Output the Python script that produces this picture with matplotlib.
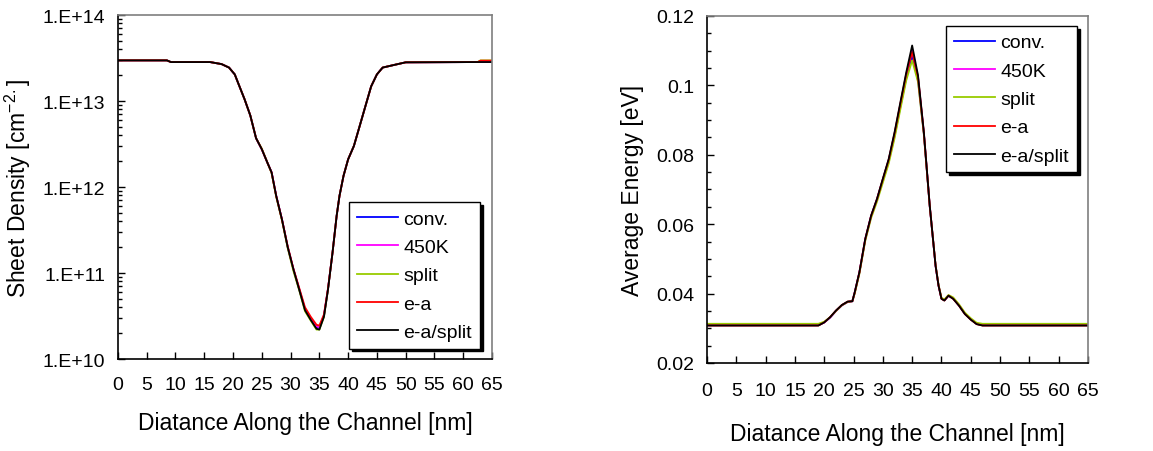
import math
import matplotlib
matplotlib.use("Agg")
import matplotlib.pyplot as plt
from matplotlib.ticker import MultipleLocator, NullFormatter, FuncFormatter, LogLocator

plt.rcParams['font.family'] = ['Liberation Sans', 'DejaVu Sans']
plt.rcParams['mathtext.default'] = 'regular'

labels = ['conv.', '450K', 'split', 'e-a', 'e-a/split']
colors = ['#0000ff', '#ff00ff', '#99cc00', '#ff0000', '#000000']

# sheet density [cm^-2] vs distance [nm]
x_dens = [0, 8.5, 9.2, 16, 18, 19.3, 20.3, 21, 22, 23, 24, 25, 26, 26.7, 27.5, 28.5,
          29.5, 30.5, 31.5, 32.5, 33.5, 34.5, 35, 35.8, 36.5, 37.3, 38, 38.5, 39.2,
          40, 41, 42, 43, 44, 45, 46, 48, 50, 62.5, 63, 65]
dens_conv = [2.97e13, 2.97e13, 2.84e13, 2.84e13, 2.69e13, 2.45e13, 2.04e13, 1.55e13,
             1.05e13, 6.8e12, 3.7e12, 2.75e12, 1.9e12, 1.48e12, 7.9e11, 4.2e11, 2.0e11,
             1.1e11, 6.5e10, 3.8e10, 2.9e10, 2.35e10, 2.3e10, 3.2e10, 6.5e10, 1.75e11,
             4.6e11, 7.9e11, 1.35e12, 2.1e12, 3.0e12, 5.1e12, 8.7e12, 1.48e13, 2.04e13,
             2.45e13, 2.63e13, 2.82e13, 2.84e13, 2.84e13, 2.84e13]
dens_450k = [2.97e13, 2.97e13, 2.84e13, 2.84e13, 2.69e13, 2.45e13, 2.04e13, 1.55e13,
             1.05e13, 6.8e12, 3.7e12, 2.75e12, 1.9e12, 1.48e12, 7.9e11, 4.2e11, 2.0e11,
             1.1e11, 6.5e10, 3.8e10, 2.95e10, 2.4e10, 2.35e10, 3.2e10, 6.5e10, 1.75e11,
             4.6e11, 7.9e11, 1.35e12, 2.1e12, 3.0e12, 5.1e12, 8.7e12, 1.48e13, 2.04e13,
             2.45e13, 2.63e13, 2.82e13, 2.84e13, 2.84e13, 2.84e13]
dens_split = [2.97e13, 2.97e13, 2.84e13, 2.84e13, 2.69e13, 2.45e13, 2.04e13, 1.55e13,
              1.05e13, 6.8e12, 3.7e12, 2.8e12, 1.9e12, 1.45e12, 7.7e11, 4.1e11, 1.95e11,
              1.05e11, 6.3e10, 3.6e10, 2.8e10, 2.2e10, 2.2e10, 3.1e10, 6.4e10, 1.75e11,
              4.6e11, 7.9e11, 1.35e12, 2.1e12, 3.0e12, 5.1e12, 8.7e12, 1.48e13, 2.04e13,
              2.45e13, 2.63e13, 2.82e13, 2.84e13, 2.97e13, 2.97e13]
dens_ea = [2.97e13, 2.97e13, 2.84e13, 2.84e13, 2.69e13, 2.45e13, 2.04e13, 1.55e13,
           1.05e13, 6.8e12, 3.7e12, 2.75e12, 1.9e12, 1.48e12, 7.9e11, 4.2e11, 2.05e11,
           1.12e11, 6.7e10, 4.0e10, 3.1e10, 2.5e10, 2.45e10, 3.3e10, 6.6e10, 1.75e11,
           4.6e11, 7.9e11, 1.35e12, 2.1e12, 3.0e12, 5.1e12, 8.7e12, 1.48e13, 2.04e13,
           2.45e13, 2.63e13, 2.82e13, 2.84e13, 2.95e13, 2.95e13]
dens_easplit = [2.97e13, 2.97e13, 2.84e13, 2.84e13, 2.69e13, 2.45e13, 2.04e13, 1.55e13,
                1.05e13, 6.8e12, 3.7e12, 2.75e12, 1.9e12, 1.48e12, 7.9e11, 4.2e11, 2.0e11,
                1.1e11, 6.4e10, 3.7e10, 2.85e10, 2.25e10, 2.2e10, 3.1e10, 6.4e10, 1.75e11,
                4.6e11, 7.9e11, 1.35e12, 2.1e12, 3.0e12, 5.1e12, 8.7e12, 1.48e13, 2.04e13,
                2.45e13, 2.63e13, 2.82e13, 2.84e13, 2.84e13, 2.84e13]

# average energy [eV] vs distance [nm]
x_en = [0, 19, 20, 21, 22, 23, 24, 24.8, 25.2, 26, 27, 28, 29, 30, 31, 32, 33, 34, 35,
        36, 37, 38, 39, 39.5, 40, 40.5, 41.2, 42, 43, 44, 45, 46, 47, 65]
en_conv = [0.0309, 0.0309, 0.0317, 0.0331, 0.0350, 0.0366, 0.0376, 0.0378, 0.0402,
           0.0460, 0.0555, 0.0622, 0.0670, 0.0727, 0.0782, 0.0855, 0.0940, 0.1022,
           0.1085, 0.1015, 0.0860, 0.0652, 0.0480, 0.0424, 0.0386, 0.0381, 0.0394,
           0.0386, 0.0366, 0.0342, 0.0326, 0.0313, 0.0309, 0.0309]
en_450k = [0.0309, 0.0309, 0.0317, 0.0331, 0.0350, 0.0366, 0.0376, 0.0378, 0.0403,
           0.0461, 0.0557, 0.0624, 0.0672, 0.0729, 0.0785, 0.0860, 0.0946, 0.1030,
           0.1104, 0.1022, 0.0862, 0.0653, 0.0480, 0.0424, 0.0386, 0.0381, 0.0394,
           0.0386, 0.0366, 0.0342, 0.0326, 0.0313, 0.0309, 0.0309]
en_split = [0.0313, 0.0313, 0.0319, 0.0332, 0.0350, 0.0366, 0.0376, 0.0378, 0.0400,
            0.0457, 0.0552, 0.0618, 0.0665, 0.0720, 0.0775, 0.0848, 0.0932, 0.1015,
            0.1072, 0.1010, 0.0858, 0.0652, 0.0482, 0.0426, 0.0388, 0.0383, 0.0396,
            0.0389, 0.0369, 0.0345, 0.0329, 0.0316, 0.0313, 0.0313]
en_ea = [0.0308, 0.0308, 0.0317, 0.0332, 0.0351, 0.0367, 0.0377, 0.0378, 0.0403,
         0.0461, 0.0557, 0.0624, 0.0672, 0.0730, 0.0786, 0.0862, 0.0948, 0.1033,
         0.1096, 0.1025, 0.0863, 0.0653, 0.0480, 0.0423, 0.0385, 0.0380, 0.0394,
         0.0385, 0.0365, 0.0341, 0.0325, 0.0312, 0.0308, 0.0308]
en_easplit = [0.0308, 0.0308, 0.0317, 0.0332, 0.0351, 0.0367, 0.0377, 0.0378, 0.0404,
              0.0462, 0.0558, 0.0625, 0.0673, 0.0731, 0.0788, 0.0865, 0.0952, 0.1038,
              0.1115, 0.1029, 0.0865, 0.0654, 0.0480, 0.0423, 0.0385, 0.0380, 0.0394,
              0.0385, 0.0365, 0.0341, 0.0325, 0.0312, 0.0308, 0.0308]

dens = [dens_conv, dens_450k, dens_split, dens_ea, dens_easplit]
energy = [en_conv, en_450k, en_split, en_ea, en_easplit]

fig = plt.figure(figsize=(11.53, 4.52), dpi=100)
ax1 = fig.add_axes([0.1023, 0.2035, 0.3244, 0.761])
ax2 = fig.add_axes([0.6132, 0.1947, 0.3304, 0.7677])


def style_axes(ax):
    ax.spines['left'].set_color('black')
    ax.spines['bottom'].set_color('black')
    ax.spines['top'].set_color('#7f7f7f')
    ax.spines['right'].set_color('#7f7f7f')
    for s in ax.spines.values():
        s.set_linewidth(1.2)
    ax.tick_params(which='major', direction='in', length=5, width=1, labelsize=14)
    ax.tick_params(which='minor', direction='in', length=3, width=1)
    ax.tick_params(axis='x', pad=12)
    ax.tick_params(axis='y', pad=9)
    ax.set_xlim(0, 65)
    ax.xaxis.set_major_locator(MultipleLocator(5))


def add_legend(ax, **kw):
    # black drop shadow like the original plot
    leg = ax.legend(fontsize=14, frameon=True, fancybox=False, edgecolor='black',
                    handlelength=2.1, handletextpad=0.3, labelspacing=0.55,
                    borderpad=0.4, borderaxespad=0,
                    shadow={'color': 'black', 'alpha': 1}, **kw)
    leg.get_frame().set_linewidth(1.0)
    return leg


for y, lab, c in zip(dens, labels, colors):
    ax1.plot(x_dens, y, color=c, lw=1.3, label=lab)
ax1.set_yscale('log')
ax1.set_ylim(1e10, 1e14)
ax1.yaxis.set_major_locator(LogLocator(base=10, numticks=10))
ax1.yaxis.set_minor_locator(LogLocator(base=10, subs=range(2, 10), numticks=20))
ax1.yaxis.set_minor_formatter(NullFormatter())
ax1.yaxis.set_major_formatter(FuncFormatter(lambda v, p: '1.E+%02d' % round(math.log10(v))))
style_axes(ax1)
ax1.set_xlabel('Diatance Along the Channel [nm]', fontsize=16.5, labelpad=13)
ax1.set_ylabel('Sheet Density [cm$^{-2.}$]', fontsize=16.5, labelpad=7)
add_legend(ax1, loc='lower right', bbox_to_anchor=(0.968, 0.03))

for y, lab, c in zip(energy, labels, colors):
    ax2.plot(x_en, y, color=c, lw=1.3, label=lab)
ax2.set_ylim(0.02, 0.12)
ax2.yaxis.set_major_locator(MultipleLocator(0.02))
ax2.yaxis.set_minor_locator(MultipleLocator(0.005))
ax2.yaxis.set_major_formatter(FuncFormatter(lambda v, p: '%g' % round(v, 3)))
style_axes(ax2)
ax2.tick_params(axis='x', pad=14)
ax2.set_xlabel('Diatance Along the Channel [nm]', fontsize=16.5, labelpad=16)
ax2.set_ylabel('Average Energy [eV]', fontsize=16.5, labelpad=9)
add_legend(ax2, loc='upper right', bbox_to_anchor=(0.971, 0.971))

fig.savefig('out.png', dpi=100)
